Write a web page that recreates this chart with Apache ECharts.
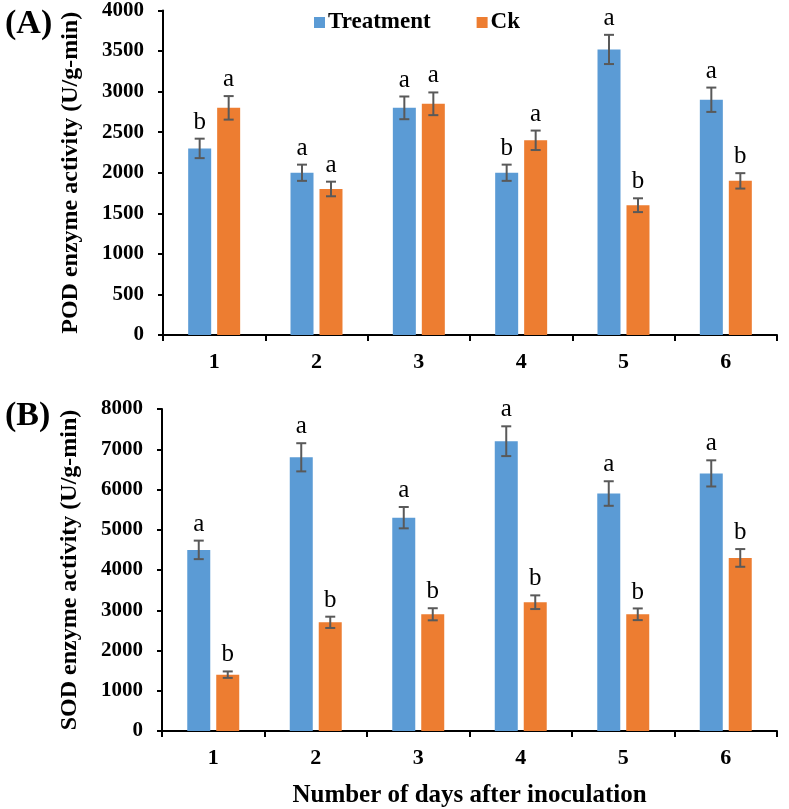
<!DOCTYPE html>
<html>
<head>
<meta charset="utf-8">
<script src="https://cdn.jsdelivr.net/npm/echarts@6/dist/echarts.min.js"></script>
<style>
  html, body { margin: 0; padding: 0; background: #fff; }
  #chart { width: 789px; height: 809px; }
</style>
</head>
<body>
<div id="chart"></div>
<script>
// 数据
var days = ['1', '2', '3', '4', '5', '6'];

var podTreatment = [2300, 2000, 2800, 2000, 3520, 2900];
var podTreatmentErr = [120, 100, 140, 100, 180, 150];
var podTreatmentSig = ['b', 'a', 'a', 'b', 'a', 'a'];
var podCk = [2800, 1800, 2850, 2400, 1600, 1900];
var podCkErr = [145, 90, 140, 120, 85, 95];
var podCkSig = ['a', 'a', 'a', 'a', 'b', 'b'];

var sodTreatment = [4500, 6800, 5300, 7200, 5900, 6400];
var sodTreatmentErr = [230, 350, 265, 370, 305, 325];
var sodTreatmentSig = ['a', 'a', 'a', 'a', 'a', 'a'];
var sodCk = [1400, 2700, 2900, 3200, 2900, 4300];
var sodCkErr = [80, 140, 150, 170, 145, 220];
var sodCkSig = ['b', 'b', 'b', 'b', 'b', 'b'];

var serif = '"Liberation Serif", "Times New Roman", serif';
var blue = '#5B9BD5';
var orange = '#ED7D31';

// 误差线 + 显著性字母
function errSeries(axis, vals, errs, sig, offset) {
  return {
    type: 'custom',
    xAxisIndex: axis,
    yAxisIndex: axis,
    z: 10,
    data: vals.map(function (v, i) { return [i, v, errs[i]]; }),
    renderItem: function (params, api) {
      var i = api.value(0), v = api.value(1), e = api.value(2);
      var hi = api.coord([i, v + e]);
      var lo = api.coord([i, v - e]);
      var cx = hi[0] + offset;
      var st = { stroke: '#595959', lineWidth: 2 };
      return {
        type: 'group',
        children: [
          { type: 'line', shape: { x1: cx, y1: hi[1], x2: cx, y2: lo[1] }, style: st },
          { type: 'line', shape: { x1: cx - 5, y1: hi[1], x2: cx + 5, y2: hi[1] }, style: st },
          { type: 'line', shape: { x1: cx - 5, y1: lo[1], x2: cx + 5, y2: lo[1] }, style: st },
          {
            type: 'text',
            style: {
              text: sig[params.dataIndex],
              x: cx, y: hi[1] - 4,
              align: 'center', verticalAlign: 'bottom',
              fontFamily: serif, fontSize: 25, fill: '#000'
            }
          }
        ]
      };
    }
  };
}

function barSeries(name, axis, vals, color) {
  return {
    name: name,
    type: 'bar',
    xAxisIndex: axis,
    yAxisIndex: axis,
    data: vals,
    barWidth: 23,
    barGap: '26%',
    itemStyle: { color: color }
  };
}

function xAxisOf(idx, withName) {
  return {
    type: 'category',
    gridIndex: idx,
    data: days,
    name: withName ? 'Number of days after inoculation' : '',
    nameLocation: 'middle',
    nameGap: 52,
    nameTextStyle: { fontFamily: serif, fontWeight: 'bold', fontSize: 25, color: '#000' },
    axisLine: { lineStyle: { color: '#000', width: 2 } },
    axisTick: { show: true, interval: 0, length: 6, lineStyle: { color: '#000', width: 2 } },
    axisLabel: { margin: 16, fontFamily: serif, fontWeight: 'bold', fontSize: 22, color: '#000' }
  };
}

function yAxisOf(idx, name, max, step) {
  return {
    type: 'value',
    gridIndex: idx,
    min: 0,
    max: max,
    interval: step,
    name: name,
    nameLocation: 'middle',
    nameGap: 80,
    nameTextStyle: { fontFamily: serif, fontWeight: 'bold', fontSize: 24, color: '#000' },
    splitLine: { show: false },
    axisLine: { show: true, lineStyle: { color: '#000', width: 2 } },
    axisTick: { show: true, length: 5, lineStyle: { color: '#000', width: 2 } },
    axisLabel: {
      margin: 19, fontFamily: serif, fontWeight: 'bold', fontSize: 21, color: '#000',
      formatter: function (v) { return String(v); }
    }
  };
}

var chart = echarts.init(document.getElementById('chart'));
chart.setOption({
  animation: false,
  backgroundColor: '#fff',
  title: [
    { text: '(A)', left: 0, top: 2, textStyle: { fontFamily: serif, fontWeight: 'bold', fontSize: 34, color: '#000' } },
    { text: '(B)', left: 0, top: 394, textStyle: { fontFamily: serif, fontWeight: 'bold', fontSize: 34, color: '#000' } }
  ],
  legend: {
    data: ['Treatment', 'Ck'],
    left: 309,
    top: 6,
    icon: 'rect',
    itemWidth: 11,
    itemHeight: 11,
    itemGap: 46,
    textStyle: { fontFamily: serif, fontWeight: 'bold', fontSize: 23, color: '#000', padding: [0, 0, 0, -2] }
  },
  grid: [
    { left: 163, right: 12, top: 10, bottom: 474 },
    { left: 162, right: 12, top: 409, bottom: 77 }
  ],
  xAxis: [xAxisOf(0, false), xAxisOf(1, true)],
  yAxis: [
    yAxisOf(0, 'POD enzyme activity (U/g-min)', 4000, 500),
    yAxisOf(1, 'SOD enzyme activity (U/g-min)', 8000, 1000)
  ],
  series: [
    barSeries('Treatment', 0, podTreatment, blue),
    barSeries('Ck', 0, podCk, orange),
    errSeries(0, podTreatment, podTreatmentErr, podTreatmentSig, -14.5),
    errSeries(0, podCk, podCkErr, podCkSig, 14.5),
    barSeries('Treatment', 1, sodTreatment, blue),
    barSeries('Ck', 1, sodCk, orange),
    errSeries(1, sodTreatment, sodTreatmentErr, sodTreatmentSig, -14.5),
    errSeries(1, sodCk, sodCkErr, sodCkSig, 14.5)
  ]
});
window.onresize = function () {
  chart.resize();
};
</script>
</body>
</html>
